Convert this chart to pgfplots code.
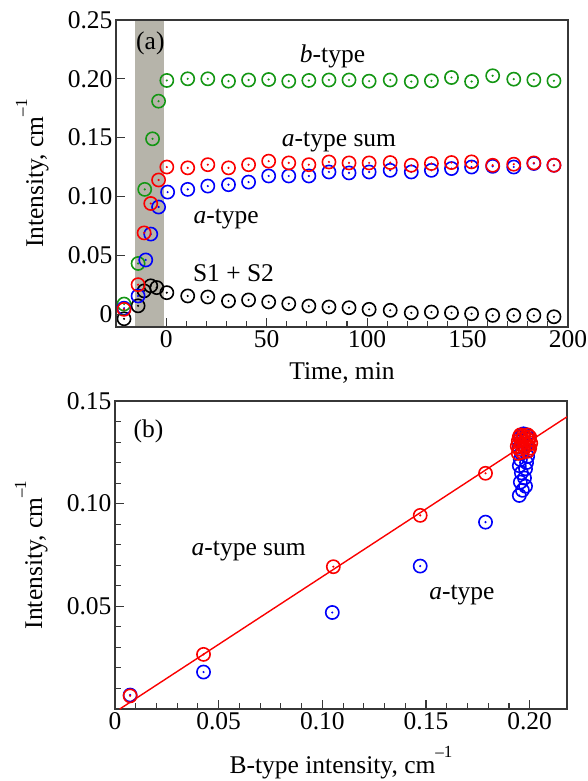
\documentclass[border=0pt]{standalone}
\usepackage{fontspec}
\setmainfont{Liberation Serif}
\usepackage{pgfplots}
\pgfplotsset{compat=1.18}

\definecolor{mygreen}{RGB}{20,150,20}
\definecolor{myred}{RGB}{250,0,0}
\definecolor{myblue}{RGB}{0,0,250}
\definecolor{bandgray}{RGB}{182,180,170}
\definecolor{framec}{RGB}{55,55,55}

\pgfdeclareplotmark{odot}{%
  \pgfpathcircle{\pgfpointorigin}{\pgfplotmarksize}%
  \pgfusepathqstroke
  \pgfpathcircle{\pgfpointorigin}{1.2pt}%
  \pgfusepathqfill}

\newcommand{\cmi}{cm\raisebox{16pt}{\fontsize{17}{17}\selectfont –1}}
\newcommand{\bigf}{\fontsize{25.5}{30}\selectfont}

\pgfplotsset{
  myaxis/.style={
    scale only axis,
    axis line style={framec, line width=1.3pt},
    tick style={framec, line width=1.1pt},
    major tick length=9pt, minor tick length=6pt,
    tick align=inside,
    xtick pos=bottom, ytick pos=left,
    tick label style={font=\bigf},
    label style={font=\bigf},
    clip mode=individual,
  },
  odotstyle/.style={only marks, mark=odot, mark size=6.6pt, line width=1.6pt},
}

\begin{document}
\begin{tikzpicture}
\path[use as bounding box] (-116pt,-454pt) rectangle (472pt,327pt);

% ---------------- panel (a)
\begin{axis}[myaxis,
  at={(0pt,0pt)}, anchor=south west,
  width=452pt, height=307pt,
  xmin=-25, xmax=200, ymin=-0.011, ymax=0.25,
  axis on top,
  xtick={0,50,100,150,200},
  xticklabels={0,50,100,150,200},
  minor x tick num=4,
  ytick={0,0.05,0.10,0.15,0.20,0.25},
  yticklabels={0,0.05,0.10,0.15,0.20,0.25},
  xlabel={Time, min},
  ylabel={Intensity, \cmi},
  xlabel style={at={(axis description cs:0.5,-0.1726)}, anchor=base},
  ylabel style={at={(axis description cs:-0.1615,0.5)}, anchor=base},
]
\addplot[fill=bandgray, draw=none, forget plot]
  coordinates {(-15.3,-0.011) (-15.3,0.25) (-1,0.25) (-1,-0.011)} -- cycle;

\addplot[odotstyle, color=black] coordinates {
(-21,-0.004) (-14,0.007) (-11,0.0197) (-7.7,0.024) (-4.7,0.0225)
(0.3,0.0182) (10.7,0.0154) (20.7,0.0145) (31,0.0111) (41,0.012)
(51,0.0103) (61,0.0088) (71,0.0068) (81,0.006) (91,0.0054)
(101,0.004) (111.5,0.0032) (122,0.0011) (132,0.0017) (142,0.0011)
(152,0.0003) (162.5,-0.0011) (173,-0.0011) (183,-0.0011) (193,-0.0023)};

\addplot[odotstyle, color=mygreen] coordinates {
(-21,0.0085) (-14,0.043) (-10.7,0.106) (-6.8,0.149) (-3.8,0.181)
(0.3,0.1986) (10.7,0.200) (20.7,0.200) (31,0.198) (41,0.199)
(51,0.1994) (61,0.198) (71,0.1986) (81,0.199) (91,0.199)
(101,0.198) (111.5,0.199) (122,0.1977) (132,0.1983) (142,0.2011)
(152,0.1977) (162.5,0.2026) (173,0.1997) (183,0.1991) (193,0.1983)};

\addplot[odotstyle, color=myblue] coordinates {
(-21,0.005) (-14,0.0154) (-10.2,0.046) (-7.7,0.068) (-3.8,0.091)
(0.7,0.1037) (10.7,0.106) (20.7,0.1088) (31,0.110) (41,0.1122)
(51,0.1174) (61,0.1174) (71,0.1174) (81,0.1208) (91,0.120)
(101,0.1208) (111.5,0.1222) (122,0.1208) (132,0.1222) (142,0.1237)
(152,0.125) (162.5,0.1256) (173,0.125) (183,0.128) (193,0.1265)};

\addplot[odotstyle, color=myred] coordinates {
(-21,0.004) (-14,0.025) (-11,0.069) (-7.7,0.094) (-3.8,0.114)
(0.3,0.125) (10.7,0.1243) (20.7,0.127) (31,0.1243) (41,0.127)
(51,0.130) (61,0.1285) (71,0.127) (81,0.1293) (91,0.1285)
(101,0.1285) (111.5,0.1288) (122,0.1265) (132,0.128) (142,0.1288)
(152,0.1294) (162.5,0.1265) (173,0.1274) (183,0.1285) (193,0.1265)};

\node[font=\bigf, anchor=base] at (axis cs:-7.9,0.2250) {(a)};
\node[font=\bigf, anchor=base] at (axis cs:82.8,0.2139) {\textit{b}-type};
\node[font=\bigf, anchor=base] at (axis cs:86,0.1428) {\textit{a}-type sum};
\node[font=\bigf, anchor=base] at (axis cs:29.8,0.0774) {\textit{a}-type};
\node[font=\bigf, anchor=base] at (axis cs:33.5,0.0276) {S1 + S2};
\end{axis}

% ---------------- panel (b)
\begin{axis}[myaxis,
  at={(-1pt,-382pt)}, anchor=south west,
  width=452pt, height=308pt,
  xmin=0, xmax=0.218, ymin=0, ymax=0.15,
  xtick={0,0.05,0.10,0.15,0.20},
  xticklabels={0,0.05,0.10,0.15,0.20},
  minor x tick num=4,
  ytick={0,0.05,0.10,0.15},
  yticklabels={,0.05,0.10,0.15},
  minor y tick num=4,
  xlabel={B-type intensity, \cmi},
  ylabel={Intensity, \cmi},
  xlabel style={at={(axis description cs:0.5,-0.211)}, anchor=base},
  ylabel style={at={(axis description cs:-0.1615,0.5)}, anchor=base},
]
\addplot[myred, line width=1.4pt, no marks] coordinates {(0.0023,0) (0.218,0.1423)};

\addplot[odotstyle, color=myblue] coordinates {
(0.0073,0.0068) (0.0427,0.018) (0.1048,0.047) (0.1472,0.0696) (0.1787,0.091)
(0.1950,0.1040) (0.1965,0.1065) (0.1980,0.1085) (0.1955,0.1105) (0.1975,0.1125)
(0.1960,0.1150) (0.1980,0.1170) (0.1950,0.1185) (0.1985,0.1200) (0.1955,0.1215)
(0.1990,0.1230) (0.1960,0.1245) (0.1995,0.1260) (0.1950,0.1275) (0.1985,0.1290)
(0.1960,0.1305) (0.1995,0.1315) (0.1955,0.1325) (0.1985,0.1335) (0.1970,0.1340)};

\addplot[odotstyle, color=myred] coordinates {
(0.0073,0.0064) (0.0427,0.0266) (0.1053,0.0693) (0.1472,0.0943) (0.1787,0.1148)
(0.1945,0.1245) (0.1965,0.1250) (0.1990,0.1255) (0.1950,0.1265) (0.2000,0.1270)
(0.1970,0.1275) (0.1940,0.1280) (0.1990,0.1285) (0.1960,0.1290) (0.2005,0.1295)
(0.1975,0.1300) (0.1945,0.1305) (0.1995,0.1310) (0.1965,0.1315) (0.1985,0.1320)
(0.1950,0.1325) (0.2000,0.1325) (0.1970,0.1330) (0.1990,0.1335) (0.1955,0.1335)};

\node[font=\bigf, anchor=base] at (axis cs:0.0161,0.1322) {(b)};
\node[font=\bigf, anchor=base] at (axis cs:0.0645,0.075) {\textit{a}-type sum};
\node[font=\bigf, anchor=base] at (axis cs:0.1673,0.0532) {\textit{a}-type};
\end{axis}
\end{tikzpicture}
\end{document}
